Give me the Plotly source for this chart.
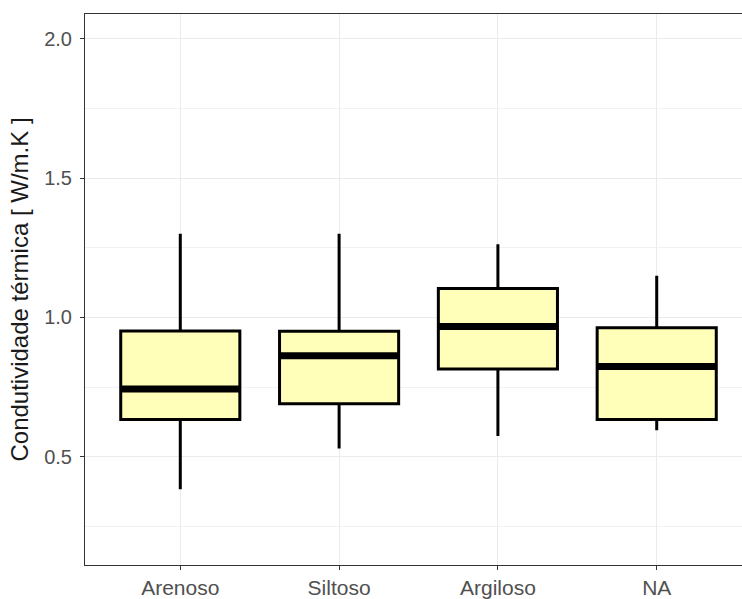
import plotly.graph_objects as go

# Soil texture classes and five-number summaries of thermal conductivity
categories = ["Arenoso", "Siltoso", "Argiloso", "NA"]
lower_whisker = [0.383, 0.529, 0.574, 0.595]
q1 = [0.633, 0.690, 0.815, 0.633]
median = [0.743, 0.862, 0.967, 0.824]
q3 = [0.951, 0.950, 1.104, 0.963]
upper_whisker = [1.300, 1.300, 1.262, 1.149]

y_ticks = [0.5, 1.0, 1.5, 2.0]

FONT = "Liberation Sans, Arial, sans-serif"
FILL = "#FFFFBA"
BOX_WIDTH = 0.75

fig = go.Figure()

for i, cat in enumerate(categories):
    fig.add_trace(go.Box(
        x=[i],
        q1=[q1[i]],
        median=[median[i]],
        q3=[q3[i]],
        lowerfence=[lower_whisker[i]],
        upperfence=[upper_whisker[i]],
        name=cat,
        width=BOX_WIDTH,
        whiskerwidth=0,
        fillcolor=FILL,
        line=dict(color="black", width=3),
        boxpoints=False,
        showlegend=False,
    ))

# Thick median bars drawn over each box
for i, cat in enumerate(categories):
    fig.add_trace(go.Scatter(
        x=[i - BOX_WIDTH / 2, i + BOX_WIDTH / 2],
        y=[median[i], median[i]],
        mode="lines",
        line=dict(color="black", width=7),
        hoverinfo="skip",
        showlegend=False,
    ))

fig.update_layout(
    width=742,
    height=599,
    margin=dict(l=85, r=0, t=14, b=31),
    paper_bgcolor="white",
    plot_bgcolor="white",
    font=dict(family=FONT),
)

fig.update_xaxes(
    type="linear",
    range=[-0.6, 3.537],
    tickmode="array",
    tickvals=list(range(len(categories))),
    ticktext=categories,
    showgrid=True,
    gridcolor="#EBEBEB",
    gridwidth=1,
    zeroline=False,
    showline=True,
    linecolor="#333333",
    linewidth=1,
    mirror=True,
    ticks="outside",
    ticklen=4,
    tickcolor="#333333",
    tickfont=dict(size=21, color="#505050", family=FONT),
)

fig.update_yaxes(
    range=[0.111, 2.089],
    tickmode="array",
    tickvals=y_ticks,
    ticktext=[f"{v:.1f}" for v in y_ticks],
    showgrid=True,
    gridcolor="#EBEBEB",
    gridwidth=1,
    minor=dict(tickmode="linear", tick0=0, dtick=0.25, showgrid=True,
               gridcolor="#F2F2F2", gridwidth=1, ticks=""),
    zeroline=False,
    showline=True,
    linecolor="#333333",
    linewidth=1,
    ticks="outside",
    ticklen=4,
    tickcolor="#333333",
    ticklabelstandoff=4,
    tickfont=dict(size=20, color="#505050", family=FONT),
    title=dict(text="Condutividade térmica [ W/m.K ]",
               font=dict(size=24, color="#1A1A1A", family=FONT),
               standoff=8),
)

fig.write_html("out.html")
